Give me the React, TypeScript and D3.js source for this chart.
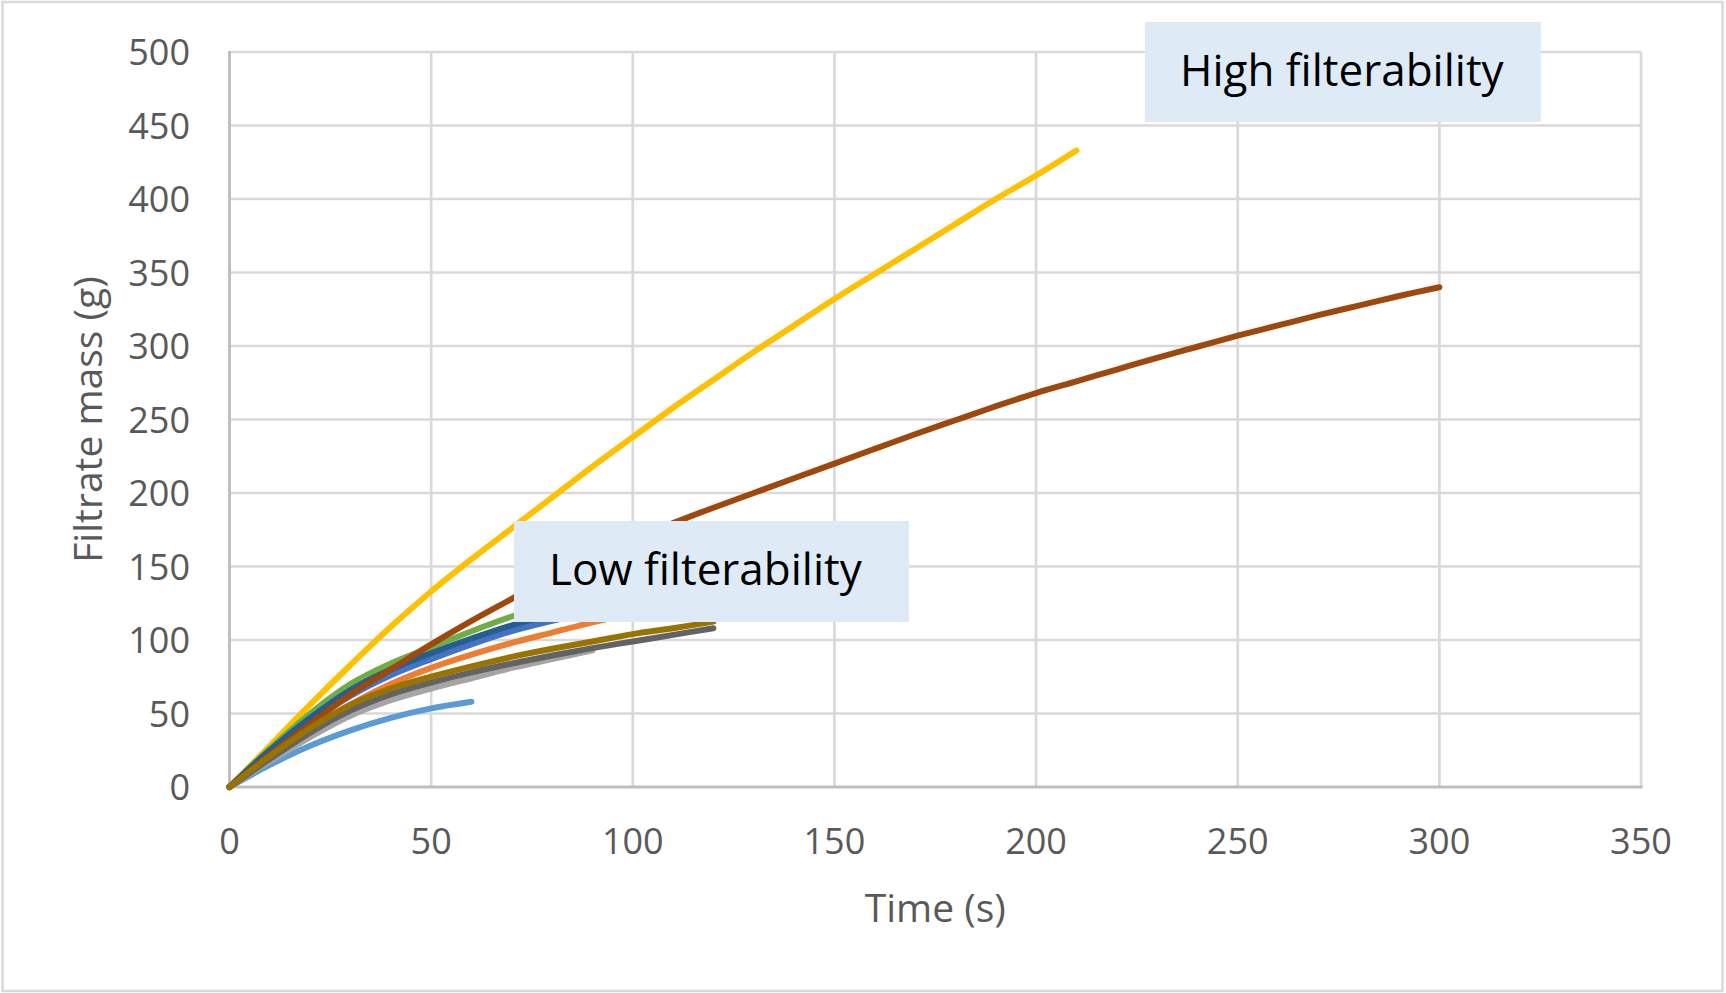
import React, { useRef, useEffect } from 'react';
import * as d3 from 'd3';

// sample times (s), shared by all runs; each run stops at its own length
const time = [0, 10, 20, 30, 40, 50, 60, 70, 80, 90, 100, 110, 120, 130, 140, 150, 160, 170, 180, 190, 200, 210, 220, 230, 240, 250, 260, 270, 280, 290, 300];

const run1 = [0, 15, 28, 38.5, 47, 53.5, 58];
const run2 = [0, 20, 39, 56, 70, 81, 90, 98, 105, 112, 118, 123, 128];
const run3 = [0, 17.5, 34, 48.5, 59, 67, 74, 81, 87, 93];
const run4 = [0, 28, 56, 83, 109, 133, 155, 176, 197, 218, 238, 258, 277, 296, 314, 332, 349, 366, 383, 400, 416, 433];
const run5 = [0, 23, 44, 62, 76, 87, 97, 106, 113, 119, 124, 129, 133];
const run6 = [0, 26, 50, 70, 84, 95, 106, 116, 124, 131, 137, 142, 147];
const run7 = [0, 25, 47, 66, 80, 91, 101, 110, 117, 123, 129, 134, 139];
const run8 = [0, 22, 43, 63, 80, 97, 113, 128, 143, 156, 168, 179.5, 190, 200, 210, 220, 230, 240, 249.5, 259, 268, 276, 284, 292, 299.5, 307, 314, 321, 327.5, 334, 340];
const run9 = [0, 19, 37, 52, 63, 71, 78, 84, 89.5, 94.5, 99, 103.5, 108];
const run10 = [0, 21, 40, 56, 67, 75, 82, 88.5, 94, 99, 104, 108, 112.5];

const runs = [run1, run2, run3, run4, run5, run6, run7, run8, run9, run10];
const runColors = ['#5B9BD5', '#ED7D31', '#A5A5A5', '#FFC000', '#4472C4', '#70AD47', '#255E91', '#9E480E', '#636363', '#997300'];

const xTicks = [0, 50, 100, 150, 200, 250, 300, 350];
const yTicks = [0, 50, 100, 150, 200, 250, 300, 350, 400, 450, 500];

const WIDTH = 1726;
const HEIGHT = 993;
const FONT = '"Open Sans", "Noto Sans", sans-serif';

const App: React.FC = () => {
  const svgRef = useRef<SVGSVGElement>(null);

  useEffect(() => {
    if (!svgRef.current) return;
    const svg = d3.select(svgRef.current);
    svg.selectAll('*').remove();

    const left = 229.5, right = 1641, top = 52, bottom = 787;

    const x = d3.scaleLinear().domain([0, 350]).range([left, right]);
    const y = d3.scaleLinear().domain([0, 500]).range([bottom, top]);

    // chart area frame
    svg.append('rect')
      .attr('x', 2.5).attr('y', 2)
      .attr('width', WIDTH - 6).attr('height', HEIGHT - 4)
      .attr('fill', '#fff')
      .attr('stroke', '#d9d9d9')
      .attr('stroke-width', 2.5);

    // grid
    const grid = svg.append('g');
    grid.selectAll('.hgrid')
      .data(yTicks.slice(1))
      .enter().append('line')
      .attr('x1', left).attr('x2', right)
      .attr('y1', d => y(d)).attr('y2', d => y(d))
      .attr('stroke', '#d9d9d9').attr('stroke-width', 2.7);
    grid.selectAll('.vgrid')
      .data(xTicks.slice(1))
      .enter().append('line')
      .attr('x1', d => x(d)).attr('x2', d => x(d))
      .attr('y1', top).attr('y2', bottom)
      .attr('stroke', '#d9d9d9').attr('stroke-width', 2.7);

    // axis lines
    svg.append('line')
      .attr('x1', left).attr('x2', left).attr('y1', top - 1).attr('y2', bottom)
      .attr('stroke', '#bfbfbf').attr('stroke-width', 3);
    svg.append('line')
      .attr('x1', left - 1.5).attr('x2', right + 1.5).attr('y1', bottom).attr('y2', bottom)
      .attr('stroke', '#bfbfbf').attr('stroke-width', 3);

    // tick labels
    svg.append('g').selectAll('text')
      .data(yTicks)
      .enter().append('text')
      .attr('x', 190)
      .attr('y', d => y(d) + 13)
      .attr('text-anchor', 'end')
      .style('font-family', FONT)
      .style('font-size', '36px')
      .style('fill', '#595959')
      .text(d => d);

    svg.append('g').selectAll('text')
      .data(xTicks)
      .enter().append('text')
      .attr('x', d => x(d))
      .attr('y', 854)
      .attr('text-anchor', 'middle')
      .style('font-family', FONT)
      .style('font-size', '36px')
      .style('fill', '#595959')
      .text(d => d);

    // axis titles
    svg.append('text')
      .attr('transform', `translate(102,${(top + bottom) / 2}) rotate(-90)`)
      .attr('text-anchor', 'middle')
      .style('font-family', FONT)
      .style('font-size', '39px')
      .style('fill', '#595959')
      .text('Filtrate mass (g)');

    svg.append('text')
      .attr('x', (left + right) / 2)
      .attr('y', 922)
      .attr('text-anchor', 'middle')
      .style('font-family', FONT)
      .style('font-size', '39px')
      .style('fill', '#595959')
      .text('Time (s)');

    // runs, smoothed like the original
    const line = d3.line<number>()
      .x((_, i) => x(time[i]))
      .y(d => y(d))
      .curve(d3.curveCatmullRom.alpha(0.5));

    svg.append('g').selectAll('path')
      .data(runs)
      .enter().append('path')
      .attr('d', d => line(d))
      .attr('fill', 'none')
      .attr('stroke', (_, i) => runColors[i])
      .attr('stroke-width', 6)
      .attr('stroke-linecap', 'round')
      .attr('stroke-linejoin', 'round');

    // annotation boxes
    const notes = [
      { text: 'High filterability', x: 1145, y: 22, w: 396, h: 100 },
      { text: 'Low filterability', x: 514, y: 521, w: 395, h: 101 },
    ];
    const note = svg.append('g').selectAll('g')
      .data(notes)
      .enter().append('g');
    note.append('rect')
      .attr('x', d => d.x).attr('y', d => d.y)
      .attr('width', d => d.w).attr('height', d => d.h)
      .attr('fill', '#DEEBF7');
    note.append('text')
      .attr('x', d => d.x + 35)
      .attr('y', d => d.y + 64)
      .style('font-family', FONT)
      .style('font-size', '44px')
      .style('fill', '#000')
      .text(d => d.text);
  }, []);

  return (
    <svg
      ref={svgRef}
      width={WIDTH}
      height={HEIGHT}
      style={{ position: 'absolute', left: 0, top: 0, background: '#fff' }}
    />
  );
};

export default App;
